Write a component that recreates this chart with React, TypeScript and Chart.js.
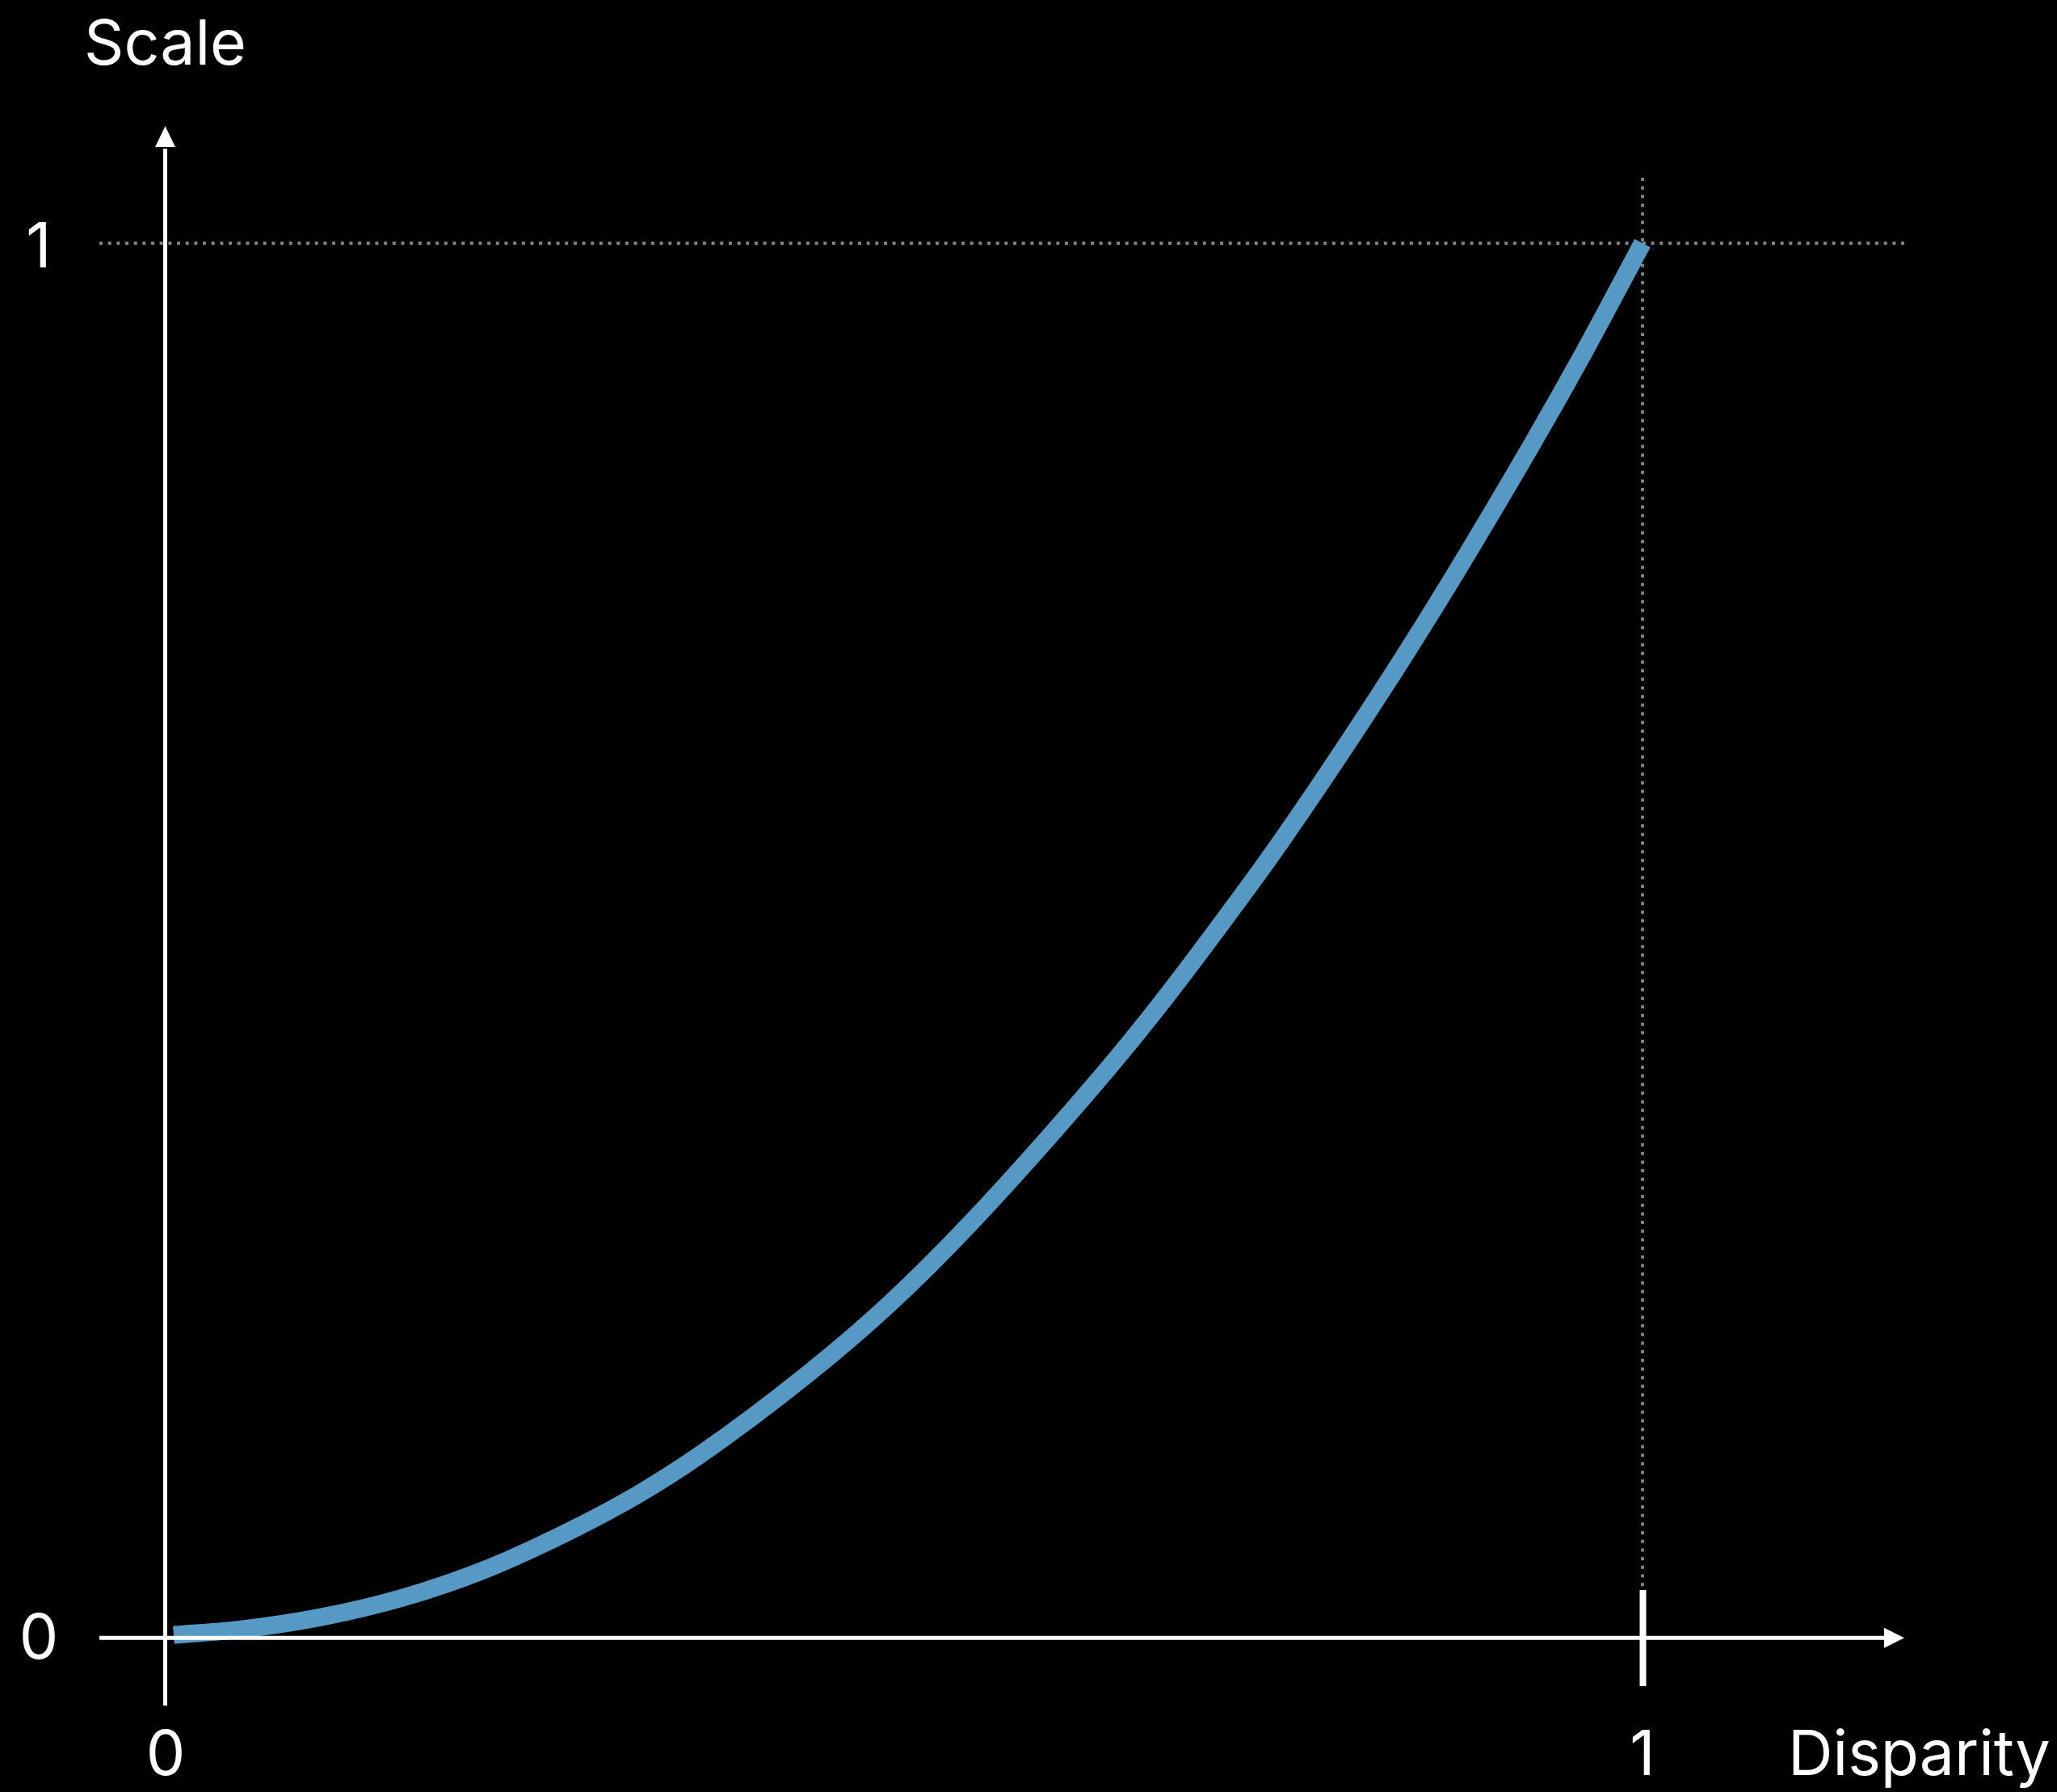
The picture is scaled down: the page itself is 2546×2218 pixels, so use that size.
import React, { useEffect, useRef } from "react";
import { Chart, registerables } from "chart.js";

Chart.register(...registerables);

// Data
const disparity = [0.006, 0.052, 0.107, 0.162, 0.217, 0.271, 0.319, 0.362, 0.435, 0.49, 0.545, 0.631, 0.669, 0.71, 0.754, 0.823, 0.871, 0.927, 0.96, 1.0];
const scaleValues = [0.002, 0.006, 0.015, 0.029, 0.049, 0.075, 0.102, 0.131, 0.189, 0.239, 0.297, 0.399, 0.448, 0.505, 0.569, 0.678, 0.759, 0.859, 0.921, 1.0];
const xTickValues = [0, 1];
const xTickLabels = ["0", "1"];
const yTickValues = [0, 1];
const yTickLabels = ["0", "1"];
const xAxisTitle = "Disparity";
const yAxisTitle = "Scale";

const W = 2546;
const H = 2218;
const FONT = "77px Inter, 'Noto Sans', sans-serif";
const CAP = 56;

const overlay = {
  id: "overlay",
  beforeDraw(chart: any) {
    const ctx = chart.ctx;
    ctx.save();
    ctx.fillStyle = "#000";
    ctx.fillRect(0, 0, chart.width, chart.height);
    ctx.restore();
  },
  beforeDatasetsDraw(chart: any) {
    const ctx = chart.ctx;
    const xs = chart.scales.x;
    const ys = chart.scales.y;
    const x0 = xs.getPixelForValue(0);
    const x1 = xs.getPixelForValue(1);
    const y0 = ys.getPixelForValue(0);
    const y1 = ys.getPixelForValue(1);
    ctx.save();
    ctx.strokeStyle = "#808080";
    ctx.lineWidth = 4;
    ctx.setLineDash([4, 6.67]);
    ctx.lineCap = "butt";
    // horizontal dotted at y = 1
    ctx.beginPath();
    ctx.moveTo(x0 - 81, y1);
    ctx.lineTo(x1 + 324, y1);
    ctx.stroke();
    // vertical dotted at x = 1
    ctx.beginPath();
    ctx.moveTo(x1, y1 - 81);
    ctx.lineTo(x1, y0 - 60);
    ctx.stroke();
    ctx.restore();
  },
  afterDatasetsDraw(chart: any) {
    const ctx = chart.ctx;
    const xs = chart.scales.x;
    const ys = chart.scales.y;
    const x0 = xs.getPixelForValue(0);
    const x1 = xs.getPixelForValue(1);
    const y0 = ys.getPixelForValue(0);
    const y1 = ys.getPixelForValue(1);
    ctx.save();
    ctx.strokeStyle = "#fff";
    ctx.fillStyle = "#fff";
    ctx.lineWidth = 5;
    ctx.setLineDash([]);
    // y axis
    const ax = x0 + 0.5;
    ctx.beginPath();
    ctx.moveTo(ax, y0 + 84);
    ctx.lineTo(ax, y1 - 117);
    ctx.stroke();
    ctx.beginPath();
    ctx.moveTo(ax, y1 - 145);
    ctx.lineTo(ax - 12.5, y1 - 119);
    ctx.lineTo(ax + 12.5, y1 - 119);
    ctx.closePath();
    ctx.fill();
    // x axis
    const ay = y0 + 0.3;
    ctx.beginPath();
    ctx.moveTo(x0 - 81, ay);
    ctx.lineTo(x1 + 302, ay);
    ctx.stroke();
    ctx.beginPath();
    ctx.moveTo(x1 + 324, ay);
    ctx.lineTo(x1 + 299, ay - 12.5);
    ctx.lineTo(x1 + 299, ay + 12.5);
    ctx.closePath();
    ctx.fill();
    // tick at x = 1
    ctx.lineWidth = 8;
    ctx.beginPath();
    ctx.moveTo(x1 + 0.5, y0 - 59);
    ctx.lineTo(x1 + 0.5, y0 + 60);
    ctx.stroke();

    // texts
    ctx.font = FONT;
    ctx.textBaseline = "alphabetic";
    ctx.textAlign = "center";
    xTickValues.forEach((v, i) => {
      ctx.fillText(xTickLabels[i], xs.getPixelForValue(v) + (i === 0 ? 1 : 0), y0 + 170);
    });
    yTickValues.forEach((v, i) => {
      ctx.fillText(yTickLabels[i], 48, ys.getPixelForValue(v) + CAP / 2 + (i === 0 ? -2 : 2));
    });
    ctx.fillText(yAxisTitle, ax, 80);
    ctx.textAlign = "left";
    ctx.fillText(xAxisTitle, x1 + 180, y0 + 170);
    ctx.restore();
  },
};

export default function App() {
  const ref = useRef<HTMLCanvasElement | null>(null);
  useEffect(() => {
    document.body.style.background = "#000";
    let chart: Chart | null = null;
    let cancelled = false;
    const make = () => {
      if (cancelled || !ref.current) return;
      chart = new Chart(ref.current, {
        type: "line",
        data: {
          datasets: [
            {
              data: disparity.map((x, i) => ({ x, y: scaleValues[i] })),
              borderColor: "#5599C4",
              borderWidth: 22,
              borderCapStyle: "butt",
              borderJoinStyle: "round",
              pointRadius: 0,
              cubicInterpolationMode: "monotone",
              fill: false,
              clip: false as any,
            },
          ],
        },
        options: {
          responsive: false,
          animation: false,
          devicePixelRatio: 1,
          layout: { padding: { left: 204, right: W - 2033, top: 301, bottom: H - 2027 } },
          plugins: { legend: { display: false }, tooltip: { enabled: false } },
          scales: {
            x: { type: "linear", min: 0, max: 1, display: false },
            y: { type: "linear", min: 0, max: 1, display: false },
          },
        },
        plugins: [overlay],
      });
    };
    const fonts: any = (document as any).fonts;
    if (fonts && fonts.load) {
      fonts.load(FONT).then(make, make);
    } else {
      make();
    }
    return () => {
      cancelled = true;
      if (chart) chart.destroy();
    };
  }, []);
  return (
    <div style={{ position: "absolute", left: 0, top: 0, width: W, height: H, background: "#000" }}>
      <canvas ref={ref} width={W} height={H} style={{ display: "block", width: W, height: H }} />
    </div>
  );
}
